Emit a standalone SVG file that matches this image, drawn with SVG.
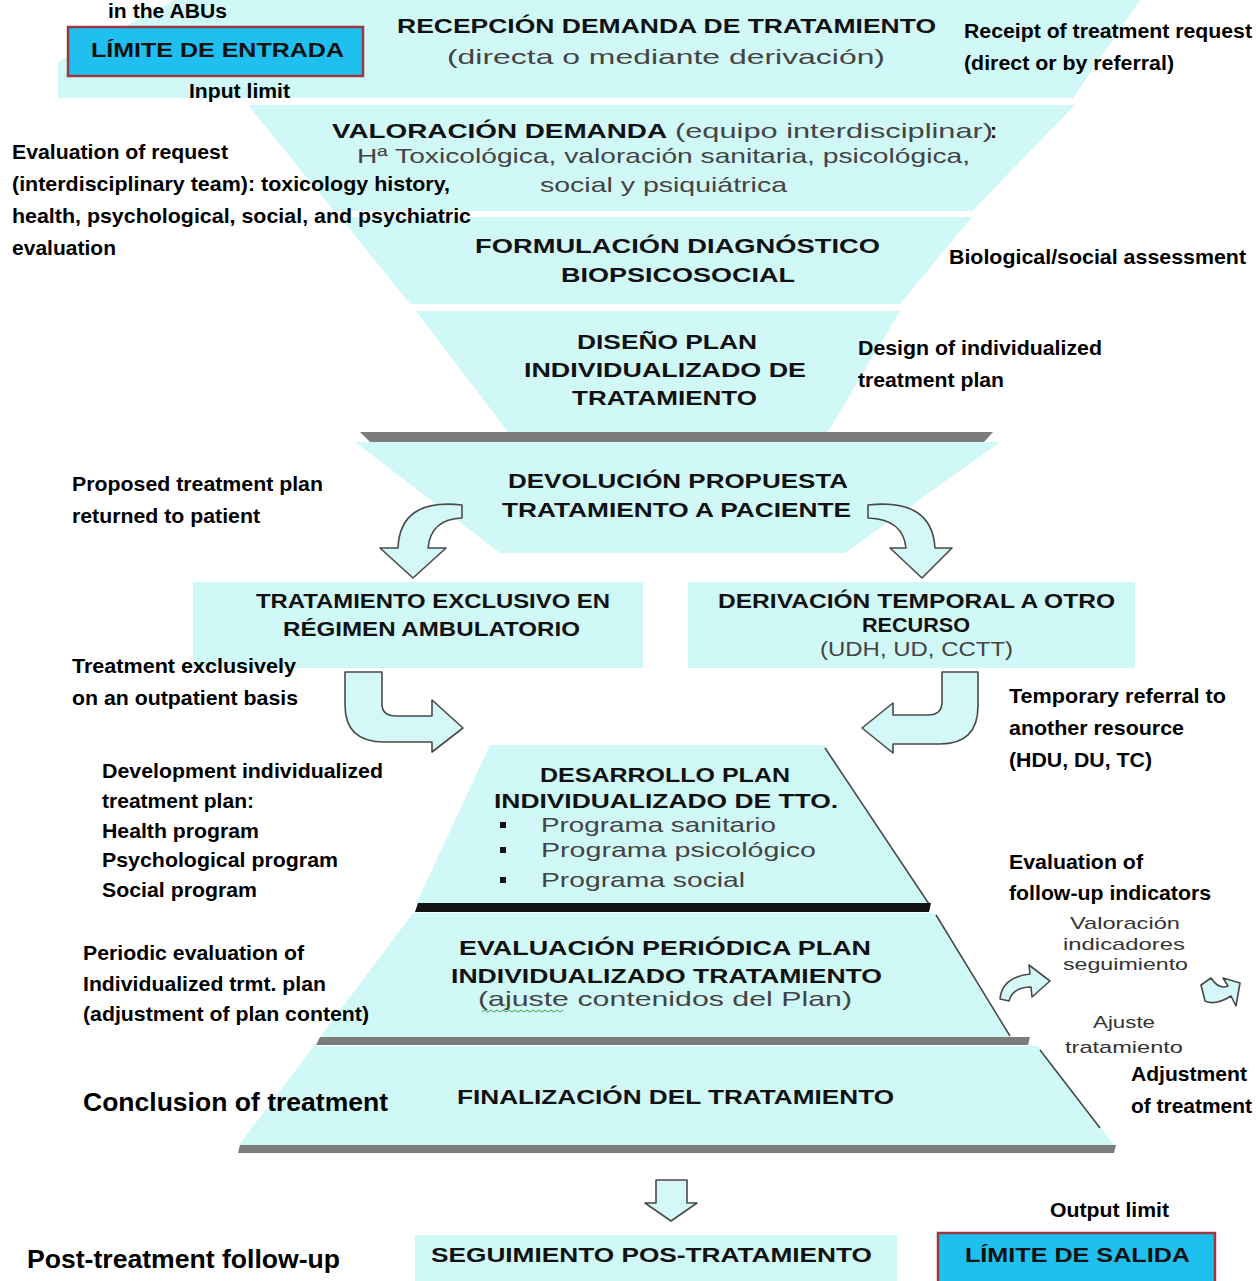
<svg xmlns="http://www.w3.org/2000/svg" width="1258" height="1281" viewBox="0 0 1258 1281">
<style>
.band{fill:#d0f8f7}
.lim{fill:#1fbff0;stroke:#9a3a40;stroke-width:2.5}
.arr{fill:#d4f7f7;stroke:#4a4a4a;stroke-width:1.6;stroke-linejoin:round}
.es{font-family:"Liberation Sans",Arial,sans-serif;font-weight:bold;font-size:21px;fill:#111;text-anchor:start}
.er{font-family:"Liberation Sans",Arial,sans-serif;font-size:21px;fill:#444;text-anchor:start}
.en{font-family:"Liberation Sans",Arial,sans-serif;font-weight:bold;font-size:21px;fill:#000}
.enb{font-family:"Liberation Sans",Arial,sans-serif;font-weight:bold;font-size:26px;fill:#000}
.sm{font-family:"Liberation Sans",Arial,sans-serif;font-size:17px;fill:#333}
.edge{fill:none;stroke:#444;stroke-width:1.5}
</style>
<rect width="1258" height="1281" fill="#ffffff"/>

<g id="recepcion">
<polygon class="band" points="175,0 1140,0 1073,98 58,98 58,62"/>
<text class="es" x="397" y="33" textLength="539" lengthAdjust="spacingAndGlyphs">RECEPCIÓN DEMANDA DE TRATAMIENTO</text>
<text class="er" x="447" y="64" textLength="438" lengthAdjust="spacingAndGlyphs">(directa o mediante derivación)</text>
</g>

<g id="limite-entrada">
<rect class="lim" x="68" y="27" width="295" height="49"/>
<text class="es" x="91" y="57" textLength="253" lengthAdjust="spacingAndGlyphs">LÍMITE DE ENTRADA</text>
</g>

<g id="valoracion">
<polygon class="band" points="248,105 1075,105 972,211 334,211"/>
<text class="es" x="332" y="138" textLength="335" lengthAdjust="spacingAndGlyphs">VALORACIÓN DEMANDA</text>
<text class="er" x="675" y="138" textLength="318" lengthAdjust="spacingAndGlyphs">(equipo interdisciplinar)</text>
<text class="es" x="990" y="138">:</text>
<text class="er" x="357" y="163" font-size="19" textLength="613" lengthAdjust="spacingAndGlyphs">Hª Toxicológica, valoración sanitaria, psicológica,</text>
<text class="er" x="540" y="192" font-size="19" textLength="247" lengthAdjust="spacingAndGlyphs">social y psiquiátrica</text>
</g>

<g id="formulacion">
<polygon class="band" points="340,217 972,217 900,304 410,304"/>
<text class="es" x="475" y="253" textLength="405" lengthAdjust="spacingAndGlyphs">FORMULACIÓN DIAGNÓSTICO</text>
<text class="es" x="561" y="282" textLength="234" lengthAdjust="spacingAndGlyphs">BIOPSICOSOCIAL</text>
</g>

<g id="diseno">
<polygon class="band" points="416,311 900,311 828,432 508,432"/>
<text class="es" x="577" y="349" textLength="180" lengthAdjust="spacingAndGlyphs">DISEÑO PLAN</text>
<text class="es" x="524" y="377" textLength="282" lengthAdjust="spacingAndGlyphs">INDIVIDUALIZADO DE</text>
<text class="es" x="572" y="405" textLength="185" lengthAdjust="spacingAndGlyphs">TRATAMIENTO</text>
</g>

<g id="devolucion">
<polygon points="360,432 993,432 984,442 370,442" fill="#7c7c7c"/>
<polygon class="band" points="355,442 1000,442 845,553 500,553"/>
<text class="es" x="508" y="488" textLength="340" lengthAdjust="spacingAndGlyphs">DEVOLUCIÓN PROPUESTA</text>
<text class="es" x="502" y="517" textLength="349" lengthAdjust="spacingAndGlyphs">TRATAMIENTO A PACIENTE</text>
</g>

<g id="tratamiento-exclusivo">
<rect class="band" x="193" y="582" width="450" height="86"/>
<text class="es" x="256" y="608" textLength="354" lengthAdjust="spacingAndGlyphs">TRATAMIENTO EXCLUSIVO EN</text>
<text class="es" x="283" y="636" textLength="297" lengthAdjust="spacingAndGlyphs">RÉGIMEN AMBULATORIO</text>
</g>

<g id="derivacion-temporal">
<rect class="band" x="688" y="582" width="447" height="86"/>
<text class="es" x="718" y="608" textLength="397" lengthAdjust="spacingAndGlyphs">DERIVACIÓN TEMPORAL A OTRO</text>
<text class="es" x="862" y="632" textLength="108" lengthAdjust="spacingAndGlyphs">RECURSO</text>
<text class="er" x="820" y="656" textLength="193" lengthAdjust="spacingAndGlyphs">(UDH, UD, CCTT)</text>
</g>

<g id="desarrollo">
<polygon class="band" points="490,745 825,745 929,904 416,904"/>
<line class="edge" x1="825" y1="748" x2="929" y2="904" stroke="#222"/>
<polygon points="418,903 931,903 929,912 415,912" fill="#111"/>
<text class="es" x="540" y="782" textLength="250" lengthAdjust="spacingAndGlyphs">DESARROLLO PLAN</text>
<text class="es" x="494" y="808" textLength="344" lengthAdjust="spacingAndGlyphs">INDIVIDUALIZADO DE TTO.</text>
<rect x="500" y="822" width="6" height="6" fill="#111"/>
<rect x="500" y="847" width="6" height="6" fill="#111"/>
<rect x="500" y="877" width="6" height="6" fill="#111"/>
<text class="er" x="541" y="832" textLength="235" lengthAdjust="spacingAndGlyphs">Programa sanitario</text>
<text class="er" x="541" y="857" textLength="275" lengthAdjust="spacingAndGlyphs">Programa psicológico</text>
<text class="er" x="541" y="887" textLength="204" lengthAdjust="spacingAndGlyphs">Programa social</text>
</g>

<g id="evaluacion">
<polygon class="band" points="413,913 936,913 1010,1037 320,1037"/>
<line class="edge" x1="936" y1="915" x2="1010" y2="1036" stroke="#555"/>
<polygon points="320,1037 1030,1037 1028,1045 316,1045" fill="#7c7c7c"/>
<text class="es" x="459" y="955" textLength="412" lengthAdjust="spacingAndGlyphs">EVALUACIÓN PERIÓDICA PLAN</text>
<text class="es" x="451" y="983" textLength="431" lengthAdjust="spacingAndGlyphs">INDIVIDUALIZADO TRATAMIENTO</text>
<text class="er" x="478" y="1006" textLength="374" lengthAdjust="spacingAndGlyphs">(ajuste contenidos del Plan)</text>
<path d="M482,1012 l3,-2 3,2 3,-2 3,2 3,-2 3,2 3,-2 3,2 3,-2 3,2 3,-2 3,2 3,-2 3,2 3,-2 3,2 3,-2 3,2 3,-2 3,2 3,-2 3,2 3,-2 3,2 3,-2 3,2 3,-2" fill="none" stroke="#3aa64a" stroke-width="1"/>
</g>

<g id="finalizacion">
<polygon class="band" points="314,1046 1038,1046 1115,1146 238,1146"/>
<line class="edge" x1="1040" y1="1050" x2="1100" y2="1128" stroke="#666"/>
<polygon points="240,1145 1116,1145 1114,1153 238,1153" fill="#7c7c7c"/>
<text class="es" x="457" y="1104" textLength="437" lengthAdjust="spacingAndGlyphs">FINALIZACIÓN DEL TRATAMIENTO</text>
</g>

<g id="seguimiento">
<rect class="band" x="415" y="1235" width="482" height="50"/>
<text class="es" x="431" y="1262" textLength="441" lengthAdjust="spacingAndGlyphs">SEGUIMIENTO POS-TRATAMIENTO</text>
</g>

<g id="limite-salida">
<rect class="lim" x="938" y="1233" width="277" height="52"/>
<text class="es" x="965" y="1262" textLength="225" lengthAdjust="spacingAndGlyphs">LÍMITE DE SALIDA</text>
</g>

<g id="ciclo-seguimiento">
<text class="sm" x="1070" y="929" textLength="110" lengthAdjust="spacingAndGlyphs">Valoración</text>
<text class="sm" x="1063" y="950" textLength="122" lengthAdjust="spacingAndGlyphs">indicadores</text>
<text class="sm" x="1063" y="970" textLength="125" lengthAdjust="spacingAndGlyphs">seguimiento</text>
<text class="sm" x="1093" y="1028" textLength="62" lengthAdjust="spacingAndGlyphs">Ajuste</text>
<text class="sm" x="1065" y="1053" textLength="118" lengthAdjust="spacingAndGlyphs">tratamiento</text>
</g>

<g id="connectors">
<path class="arr" d="M462,505 Q400,498 398,548 L380,548 L413,578 L446,548 L428,548 Q431,519 462,518 Z"/>
<path class="arr" d="M868,505 Q932,498 935,548 L952,548 L922,578 L890,548 L906,548 Q903,519 868,518 Z"/>
<path class="arr" d="M345,672 L382,672 L382,704 Q382,716 396,716 L432,716 L432,700 L463,728 L432,752 L432,742 L384,742 Q345,742 345,705 Z"/>
<path class="arr" d="M942,672 L978,672 L978,706 Q978,744 940,744 L893,744 L893,753 L862,728 L893,703 L893,715 L928,715 Q942,715 942,702 Z"/>
<path class="arr" d="M1000,999 Q1002,977 1030,974 L1029,965 L1050,981 L1032,997 L1031,987 Q1013,987 1009,1001 Z"/>
<path class="arr" d="M1201,985 L1211,978 Q1219,990 1228,986 L1223,978 L1240,983 L1236,1006 L1231,996 Q1215,1006 1205,1001 Z"/>
<path class="arr" d="M656,1180 L687,1180 L687,1203 L697,1203 L671,1221 L645,1203 L656,1203 Z"/>
</g>

<g id="english-labels">
<text class="en" x="108" y="18" font-size="19" textLength="119" lengthAdjust="spacingAndGlyphs">in the ABUs</text>
<text class="en" x="189" y="98" textLength="101" lengthAdjust="spacingAndGlyphs">Input limit</text>
<text class="en" x="964" y="38" textLength="288" lengthAdjust="spacingAndGlyphs">Receipt of treatment request</text>
<text class="en" x="964" y="70" textLength="210" lengthAdjust="spacingAndGlyphs">(direct or by referral)</text>
<text class="en" x="12" y="159" textLength="216" lengthAdjust="spacingAndGlyphs">Evaluation of request</text>
<text class="en" x="12" y="191" textLength="438" lengthAdjust="spacingAndGlyphs">(interdisciplinary team): toxicology history,</text>
<text class="en" x="12" y="223" textLength="459" lengthAdjust="spacingAndGlyphs">health, psychological, social, and psychiatric</text>
<text class="en" x="12" y="255" textLength="104" lengthAdjust="spacingAndGlyphs">evaluation</text>
<text class="en" x="949" y="264" textLength="297" lengthAdjust="spacingAndGlyphs">Biological/social assessment</text>
<text class="en" x="858" y="355" textLength="244" lengthAdjust="spacingAndGlyphs">Design of individualized</text>
<text class="en" x="858" y="387" textLength="146" lengthAdjust="spacingAndGlyphs">treatment plan</text>
<text class="en" x="72" y="491" textLength="251" lengthAdjust="spacingAndGlyphs">Proposed treatment plan</text>
<text class="en" x="72" y="523" textLength="188" lengthAdjust="spacingAndGlyphs">returned to patient</text>
<text class="en" x="72" y="673" textLength="224" lengthAdjust="spacingAndGlyphs">Treatment exclusively</text>
<text class="en" x="72" y="705" textLength="226" lengthAdjust="spacingAndGlyphs">on an outpatient basis</text>
<text class="en" x="1009" y="703" textLength="217" lengthAdjust="spacingAndGlyphs">Temporary referral to</text>
<text class="en" x="1009" y="735" textLength="175" lengthAdjust="spacingAndGlyphs">another resource</text>
<text class="en" x="1009" y="767" textLength="143" lengthAdjust="spacingAndGlyphs">(HDU, DU, TC)</text>
<text class="en" x="102" y="778" textLength="281" lengthAdjust="spacingAndGlyphs">Development individualized</text>
<text class="en" x="102" y="808" textLength="152" lengthAdjust="spacingAndGlyphs">treatment plan:</text>
<text class="en" x="102" y="838" textLength="157" lengthAdjust="spacingAndGlyphs">Health program</text>
<text class="en" x="102" y="867" textLength="236" lengthAdjust="spacingAndGlyphs">Psychological program</text>
<text class="en" x="102" y="897" textLength="155" lengthAdjust="spacingAndGlyphs">Social program</text>
<text class="en" x="1009" y="869" textLength="134" lengthAdjust="spacingAndGlyphs">Evaluation of</text>
<text class="en" x="1009" y="900" textLength="202" lengthAdjust="spacingAndGlyphs">follow-up indicators</text>
<text class="en" x="83" y="960" textLength="221" lengthAdjust="spacingAndGlyphs">Periodic evaluation of</text>
<text class="en" x="83" y="991" textLength="243" lengthAdjust="spacingAndGlyphs">Individualized trmt. plan</text>
<text class="en" x="83" y="1021" textLength="286" lengthAdjust="spacingAndGlyphs">(adjustment of plan content)</text>
<text class="enb" x="83" y="1111" textLength="305" lengthAdjust="spacingAndGlyphs">Conclusion of treatment</text>
<text class="en" x="1131" y="1081" textLength="116" lengthAdjust="spacingAndGlyphs">Adjustment</text>
<text class="en" x="1131" y="1113" textLength="121" lengthAdjust="spacingAndGlyphs">of treatment</text>
<text class="en" x="1050" y="1217" textLength="119" lengthAdjust="spacingAndGlyphs">Output limit</text>
<text class="enb" x="27" y="1268" textLength="313" lengthAdjust="spacingAndGlyphs">Post-treatment follow-up</text>
</g>
</svg>
